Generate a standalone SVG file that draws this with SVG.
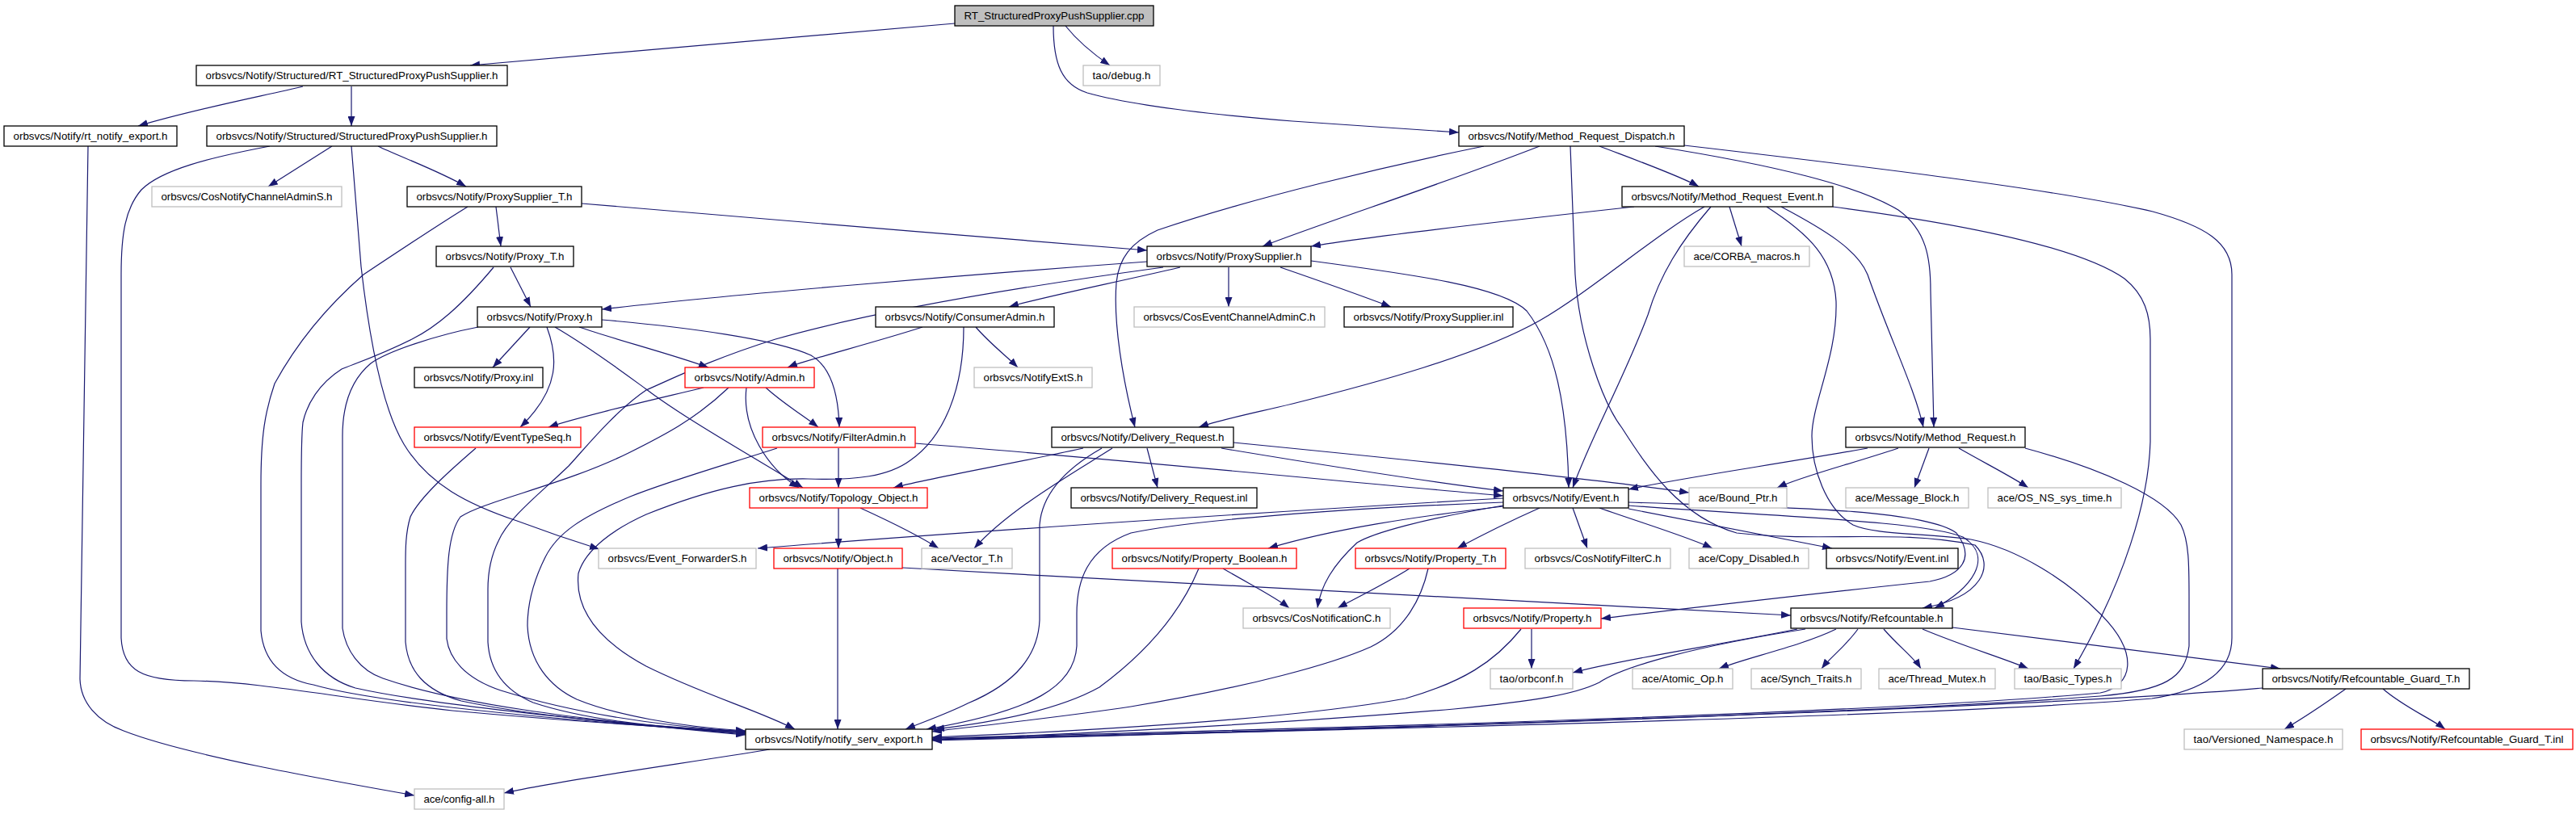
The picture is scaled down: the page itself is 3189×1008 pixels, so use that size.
<svg xmlns="http://www.w3.org/2000/svg" width="3189" height="1008" viewBox="0 0 3189 1008">
<style>
rect{stroke-width:1.3}
.n rect{fill:#fff;stroke:#000}
.g rect{fill:#fff;stroke:#bfbfbf}
.r rect{fill:#fff;stroke:#ff0000}
.c rect{fill:#bfbfbf;stroke:#000}
text{font-family:"Liberation Sans",Arial,sans-serif;font-size:13.3px;fill:#000;text-anchor:middle}
#edges path{fill:none;stroke:#191970;stroke-width:1.2;marker-end:url(#ah)}
</style>
<defs>
<marker id="ah" viewBox="0 0 12 9" refX="12" refY="4.5" markerWidth="12" markerHeight="9" markerUnits="userSpaceOnUse" orient="auto"><path d="M0,0L12,4.5L0,9z" fill="#191970"/></marker>
</defs>
<rect width="3189" height="1008" fill="#fff"/>
<g id="edges">
<path d="M1182,29 L582,81"/>
<path d="M1319,32 C1335,52 1355,68 1374,81"/>
<path d="M1304,32 C1304,80 1315,105 1346,115 C1400,130 1500,142 1600,150 L1806,164"/>
<path d="M375,107 C330,118 240,135 171,156"/>
<path d="M435,107 L435,156"/>
<path d="M109,181 L99,841 C100,870 120,893 153,905 C230,935 400,965 513,985"/>
<path d="M334,181 C260,195 200,210 175,235 C155,258 150,290 150,340 L150,790 C152,830 175,843 240,843 C330,845 420,865 560,880 C700,893 850,902 923,906"/>
<path d="M411,181 L332,231"/>
<path d="M468,181 C490,192 540,210 577,231"/>
<path d="M435,181 L447,330 C455,400 470,500 500,550 C530,600 580,625 640,645 C680,660 710,670 742,680"/>
<path d="M614,256 L620,305"/>
<path d="M720,252 C900,268 1200,292 1420,310"/>
<path d="M579,256 C540,280 480,320 450,340 C410,375 370,420 340,475 C328,510 323,540 323,600 L323,781 C326,815 345,840 388,848 C450,866 600,885 923,908"/>
<path d="M632,331 L657,380"/>
<path d="M611,331 C570,380 540,405 510,420 C470,440 440,450 423,457 C395,475 380,500 375,523 C373,540 373,560 373,600 L373,770 C376,810 400,840 440,852 C520,870 700,890 923,909"/>
<path d="M1420,324 C1200,340 900,365 745,383"/>
<path d="M1461,331 C1380,350 1290,368 1249,380"/>
<path d="M1521,331 L1521,380"/>
<path d="M1585,331 C1640,350 1690,368 1722,380"/>
<path d="M1623,323 C1750,340 1860,355 1890,385 C1925,430 1940,500 1942,604"/>
<path d="M1440,331 C1300,350 1100,380 960,420 C880,445 830,470 800,483 C760,510 720,560 704,577 C670,610 630,640 617,670 C607,690 604,710 604,730 L604,795 C606,830 625,855 660,870 C720,890 800,900 923,907"/>
<path d="M656,405 L610,455"/>
<path d="M677,405 C690,440 695,480 644,529"/>
<path d="M717,405 C760,420 830,438 877,455"/>
<path d="M745,396 C850,405 960,420 1004,440 C1030,455 1038,490 1039,529"/>
<path d="M687,405 C730,430 770,460 800,482 C850,520 940,570 994,604"/>
<path d="M592,405 C540,415 480,435 459,450 C435,470 424,500 424,540 L424,778 C428,805 445,830 474,840 C560,870 700,890 923,910"/>
<path d="M1142,405 C1080,425 1000,445 975,455"/>
<path d="M1208,405 C1225,425 1245,440 1260,455"/>
<path d="M1193,405 C1193,480 1170,540 1127,570 C1100,590 1060,595 1000,593 C940,592 880,605 800,637 C760,655 725,680 716,710 C712,750 735,790 800,825 C870,860 940,880 984,903"/>
<path d="M871,480 C800,497 720,515 679,529"/>
<path d="M948,480 C970,500 995,515 1013,529"/>
<path d="M924,480 C918,530 950,580 989,604"/>
<path d="M902,480 C860,520 820,540 780,560 C700,600 600,620 570,640 C555,660 553,700 553,760 L553,791 C556,815 575,840 620,855 C700,880 800,898 923,906"/>
<path d="M1038,555 L1038,604"/>
<path d="M1133,549 C1400,570 1700,600 1861,614"/>
<path d="M962,555 C900,575 830,595 780,615 C720,640 690,660 675,690 C660,720 653,750 653,775 C655,820 680,850 714,866 C760,885 840,900 923,905"/>
<path d="M589,555 C560,580 520,615 508,640 C502,660 502,680 502,700 L502,795 C505,830 525,855 571,868 C650,885 780,898 923,906"/>
<path d="M1341,555 C1250,575 1150,592 1106,604"/>
<path d="M1420,555 L1433,604"/>
<path d="M1512,555 C1650,578 1780,598 1861,608"/>
<path d="M1527,548 C1700,565 1950,590 2091,610"/>
<path d="M1377,555 C1330,585 1250,630 1206,679"/>
<path d="M1364,555 C1320,580 1290,610 1287,650 L1287,768 C1285,810 1260,845 1198,871 C1170,885 1140,895 1121,903"/>
<path d="M1038,629 L1038,679"/>
<path d="M1065,629 C1100,645 1140,665 1162,679"/>
<path d="M1037,704 L1037,903"/>
<path d="M1117,703 C1500,725 1900,745 2217,762"/>
<path d="M1980,181 C2030,200 2080,218 2103,231"/>
<path d="M1906,181 C1780,230 1640,275 1563,305"/>
<path d="M1837,181 C1720,205 1550,245 1433,285 C1400,300 1385,320 1382,350 C1378,400 1390,470 1405,529"/>
<path d="M1944,181 L1950,340 C1955,420 1985,500 2008,530 C2040,580 2080,640 2150,660 C2250,672 2350,655 2445,675 C2470,700 2455,740 2380,753"/>
<path d="M2049,181 C2200,205 2300,230 2350,260 C2385,285 2390,320 2390,360 L2394,529"/>
<path d="M2085,180 C2300,205 2550,235 2665,262 C2730,280 2763,300 2763,340 L2763,790 C2763,830 2730,855 2664,865 C2400,888 1600,905 1154,916"/>
<path d="M2023,256 C1850,275 1700,292 1623,305"/>
<path d="M2110,256 C2050,290 1970,360 1906,397 C1830,440 1700,475 1600,500 C1550,512 1510,520 1484,529"/>
<path d="M2118,256 C2080,300 2055,340 2040,390 C2010,470 1970,540 1947,604"/>
<path d="M2141,256 L2156,305"/>
<path d="M2187,256 C2240,290 2270,320 2273,373 C2275,440 2243,500 2243,540 C2243,580 2260,630 2294,650 C2320,662 2380,660 2440,668 C2500,680 2560,720 2600,760 C2650,810 2640,850 2600,858 C2300,885 1600,903 1154,914"/>
<path d="M2205,256 C2260,285 2300,310 2312,340 C2340,420 2370,480 2381,529"/>
<path d="M2269,256 C2450,280 2580,310 2630,345 C2655,365 2662,390 2662,420 L2662,547 C2660,620 2630,720 2567,828"/>
<path d="M2312,555 C2200,575 2080,592 2016,606"/>
<path d="M2350,555 C2290,575 2230,590 2200,604"/>
<path d="M2388,555 L2370,604"/>
<path d="M2425,555 C2460,575 2490,590 2511,604"/>
<path d="M2507,555 C2600,580 2680,615 2700,650 C2710,670 2710,700 2710,740 L2710,800 C2705,840 2680,855 2600,862 C2300,885 1600,905 1154,915"/>
<path d="M1861,617 C1600,632 1200,658 938,679"/>
<path d="M1861,622 C1650,630 1470,645 1400,660 C1345,680 1333,720 1333,760 L1333,800 C1330,850 1280,880 1147,903"/>
<path d="M1861,626 C1760,643 1700,660 1680,672 C1650,700 1635,725 1631,753"/>
<path d="M1861,627 C1750,640 1650,655 1570,679"/>
<path d="M1906,629 C1870,645 1830,665 1804,679"/>
<path d="M1947,629 L1965,679"/>
<path d="M1980,629 C2040,650 2090,665 2120,679"/>
<path d="M2016,630 C2120,650 2200,665 2268,679"/>
<path d="M2016,626 C2200,640 2380,645 2430,665 C2470,690 2440,730 2395,753"/>
<path d="M2016,622 C2200,628 2380,630 2422,660 C2445,690 2430,712 2389,720 C2200,740 2050,758 1982,766"/>
<path d="M2225,779 C2120,800 2000,818 1947,833"/>
<path d="M2235,779 C2100,800 2010,825 1980,845 C1950,860 1900,868 1800,878 C1600,895 1350,908 1154,916"/>
<path d="M2273,779 C2230,800 2160,815 2128,828"/>
<path d="M2300,779 C2285,800 2265,815 2255,828"/>
<path d="M2332,779 C2350,800 2370,815 2378,828"/>
<path d="M2380,779 C2430,800 2480,815 2511,828"/>
<path d="M2417,777 L2823,828"/>
<path d="M1896,779 L1896,828"/>
<path d="M1883,779 C1850,820 1810,845 1740,865 C1600,890 1350,905 1154,913"/>
<path d="M1745,704 C1720,720 1680,740 1656,753"/>
<path d="M1768,704 C1760,740 1740,780 1697,801 C1650,822 1550,850 1400,875 C1300,890 1200,900 1154,906"/>
<path d="M1514,704 C1550,725 1580,740 1596,753"/>
<path d="M1484,704 C1465,750 1430,800 1361,851 C1300,885 1200,898 1157,903"/>
<path d="M2904,853 C2880,870 2850,890 2828,903"/>
<path d="M2950,853 C2975,875 3010,890 3027,903"/>
<path d="M2801,852 C2600,870 2000,895 1154,917"/>
<path d="M953,928 C850,945 700,965 624,982"/>
</g>
<g id="n_cpp" class="c"><rect x="1182" y="7" width="246" height="25"/><text x="1305" y="24" textLength="223">RT_StructuredProxyPushSupplier.cpp</text></g>
<g id="n_rth" class="n"><rect x="243" y="81" width="385" height="25"/><text x="435.5" y="98" textLength="362">orbsvcs/Notify/Structured/RT_StructuredProxyPushSupplier.h</text></g>
<g id="n_debug" class="g"><rect x="1341" y="81" width="95" height="25"/><text x="1388.5" y="98" textLength="72">tao/debug.h</text></g>
<g id="n_rtexp" class="n"><rect x="5" y="156" width="214" height="25"/><text x="112" y="173" textLength="191">orbsvcs/Notify/rt_notify_export.h</text></g>
<g id="n_spps" class="n"><rect x="256" y="156" width="359" height="25"/><text x="435.5" y="173" textLength="336">orbsvcs/Notify/Structured/StructuredProxyPushSupplier.h</text></g>
<g id="n_mrd" class="n"><rect x="1806" y="156" width="279" height="25"/><text x="1945.5" y="173" textLength="256">orbsvcs/Notify/Method_Request_Dispatch.h</text></g>
<g id="n_cncas" class="g"><rect x="188" y="231" width="235" height="25"/><text x="305.5" y="248" textLength="212">orbsvcs/CosNotifyChannelAdminS.h</text></g>
<g id="n_pst" class="n"><rect x="504" y="231" width="216" height="25"/><text x="612" y="248" textLength="193">orbsvcs/Notify/ProxySupplier_T.h</text></g>
<g id="n_mre" class="n"><rect x="2008" y="231" width="261" height="25"/><text x="2138.5" y="248" textLength="238">orbsvcs/Notify/Method_Request_Event.h</text></g>
<g id="n_pt" class="n"><rect x="540" y="305" width="170" height="25"/><text x="625" y="322" textLength="147">orbsvcs/Notify/Proxy_T.h</text></g>
<g id="n_ps" class="n"><rect x="1420" y="305" width="203" height="25"/><text x="1521.5" y="322" textLength="180">orbsvcs/Notify/ProxySupplier.h</text></g>
<g id="n_corba" class="g"><rect x="2085" y="305" width="155" height="25"/><text x="2162.5" y="322" textLength="132">ace/CORBA_macros.h</text></g>
<g id="n_proxy" class="n"><rect x="591" y="380" width="154" height="25"/><text x="668" y="397" textLength="131">orbsvcs/Notify/Proxy.h</text></g>
<g id="n_ca" class="n"><rect x="1084" y="380" width="221" height="25"/><text x="1194.5" y="397" textLength="198">orbsvcs/Notify/ConsumerAdmin.h</text></g>
<g id="n_cecac" class="g"><rect x="1404" y="380" width="236" height="25"/><text x="1522" y="397" textLength="213">orbsvcs/CosEventChannelAdminC.h</text></g>
<g id="n_psinl" class="n"><rect x="1664" y="380" width="209" height="25"/><text x="1768.5" y="397" textLength="186">orbsvcs/Notify/ProxySupplier.inl</text></g>
<g id="n_pinl" class="n"><rect x="513" y="455" width="159" height="25"/><text x="592.5" y="472" textLength="136">orbsvcs/Notify/Proxy.inl</text></g>
<g id="n_admin" class="r"><rect x="848" y="455" width="160" height="25"/><text x="928" y="472" textLength="137">orbsvcs/Notify/Admin.h</text></g>
<g id="n_nes" class="g"><rect x="1206" y="455" width="146" height="25"/><text x="1279" y="472" textLength="123">orbsvcs/NotifyExtS.h</text></g>
<g id="n_ets" class="r"><rect x="513" y="529" width="206" height="25"/><text x="616" y="546" textLength="183">orbsvcs/Notify/EventTypeSeq.h</text></g>
<g id="n_fa" class="r"><rect x="944" y="529" width="189" height="25"/><text x="1038.5" y="546" textLength="166">orbsvcs/Notify/FilterAdmin.h</text></g>
<g id="n_dr" class="n"><rect x="1302" y="529" width="225" height="25"/><text x="1414.5" y="546" textLength="202">orbsvcs/Notify/Delivery_Request.h</text></g>
<g id="n_mr" class="n"><rect x="2285" y="529" width="222" height="25"/><text x="2396" y="546" textLength="199">orbsvcs/Notify/Method_Request.h</text></g>
<g id="n_to" class="r"><rect x="928" y="604" width="220" height="25"/><text x="1038" y="621" textLength="197">orbsvcs/Notify/Topology_Object.h</text></g>
<g id="n_drinl" class="n"><rect x="1326" y="604" width="230" height="25"/><text x="1441" y="621" textLength="207">orbsvcs/Notify/Delivery_Request.inl</text></g>
<g id="n_event" class="n"><rect x="1861" y="604" width="155" height="25"/><text x="1938.5" y="621" textLength="132">orbsvcs/Notify/Event.h</text></g>
<g id="n_bound" class="g"><rect x="2091" y="604" width="121" height="25"/><text x="2151.5" y="621" textLength="98">ace/Bound_Ptr.h</text></g>
<g id="n_mb" class="g"><rect x="2285" y="604" width="152" height="25"/><text x="2361" y="621" textLength="129">ace/Message_Block.h</text></g>
<g id="n_ost" class="g"><rect x="2461" y="604" width="165" height="25"/><text x="2543.5" y="621" textLength="142">ace/OS_NS_sys_time.h</text></g>
<g id="n_efs" class="g"><rect x="741" y="679" width="195" height="25"/><text x="838.5" y="696" textLength="172">orbsvcs/Event_ForwarderS.h</text></g>
<g id="n_obj" class="r"><rect x="958" y="679" width="159" height="25"/><text x="1037.5" y="696" textLength="136">orbsvcs/Notify/Object.h</text></g>
<g id="n_vec" class="g"><rect x="1141" y="679" width="112" height="25"/><text x="1197" y="696" textLength="89">ace/Vector_T.h</text></g>
<g id="n_pb" class="r"><rect x="1377" y="679" width="228" height="25"/><text x="1491" y="696" textLength="205">orbsvcs/Notify/Property_Boolean.h</text></g>
<g id="n_pth" class="r"><rect x="1678" y="679" width="186" height="25"/><text x="1771" y="696" textLength="163">orbsvcs/Notify/Property_T.h</text></g>
<g id="n_cnfc" class="g"><rect x="1888" y="679" width="180" height="25"/><text x="1978" y="696" textLength="157">orbsvcs/CosNotifyFilterC.h</text></g>
<g id="n_cd" class="g"><rect x="2091" y="679" width="148" height="25"/><text x="2165" y="696" textLength="125">ace/Copy_Disabled.h</text></g>
<g id="n_einl" class="n"><rect x="2261" y="679" width="163" height="25"/><text x="2342.5" y="696" textLength="140">orbsvcs/Notify/Event.inl</text></g>
<g id="n_cnc" class="g"><rect x="1539" y="753" width="182" height="25"/><text x="1630" y="770" textLength="159">orbsvcs/CosNotificationC.h</text></g>
<g id="n_prop" class="r"><rect x="1812" y="753" width="170" height="25"/><text x="1897" y="770" textLength="147">orbsvcs/Notify/Property.h</text></g>
<g id="n_ref" class="n"><rect x="2217" y="753" width="200" height="25"/><text x="2317" y="770" textLength="177">orbsvcs/Notify/Refcountable.h</text></g>
<g id="n_orbconf" class="g"><rect x="1845" y="828" width="102" height="25"/><text x="1896" y="845" textLength="79">tao/orbconf.h</text></g>
<g id="n_atomic" class="g"><rect x="2021" y="828" width="124" height="25"/><text x="2083" y="845" textLength="101">ace/Atomic_Op.h</text></g>
<g id="n_synch" class="g"><rect x="2168" y="828" width="136" height="25"/><text x="2236" y="845" textLength="113">ace/Synch_Traits.h</text></g>
<g id="n_tm" class="g"><rect x="2326" y="828" width="144" height="25"/><text x="2398" y="845" textLength="121">ace/Thread_Mutex.h</text></g>
<g id="n_bt" class="g"><rect x="2494" y="828" width="132" height="25"/><text x="2560" y="845" textLength="109">tao/Basic_Types.h</text></g>
<g id="n_rgt" class="n"><rect x="2801" y="828" width="256" height="25"/><text x="2929" y="845" textLength="233">orbsvcs/Notify/Refcountable_Guard_T.h</text></g>
<g id="n_nse" class="n"><rect x="923" y="903" width="231" height="25"/><text x="1038.5" y="920" textLength="208">orbsvcs/Notify/notify_serv_export.h</text></g>
<g id="n_vn" class="g"><rect x="2704" y="903" width="196" height="25"/><text x="2802" y="920" textLength="173">tao/Versioned_Namespace.h</text></g>
<g id="n_rgtinl" class="r"><rect x="2923" y="903" width="262" height="25"/><text x="3054" y="920" textLength="239">orbsvcs/Notify/Refcountable_Guard_T.inl</text></g>
<g id="n_config" class="g"><rect x="513" y="977" width="111" height="25"/><text x="568.5" y="994" textLength="88">ace/config-all.h</text></g>
</svg>
